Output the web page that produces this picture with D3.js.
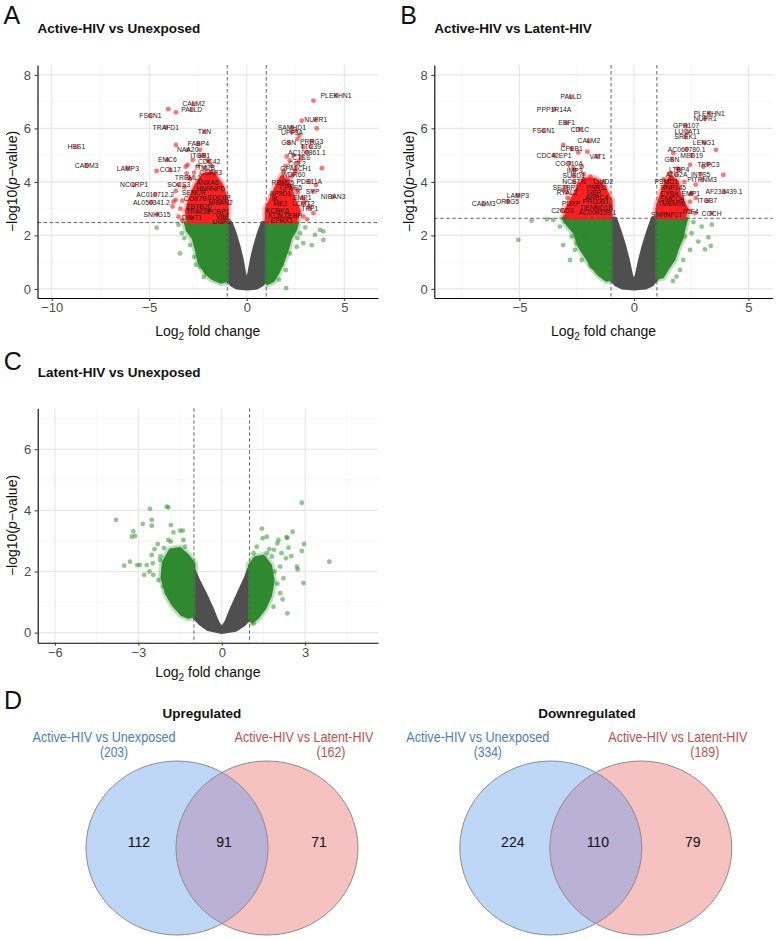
<!DOCTYPE html>
<html lang="en">
<head>
<meta charset="utf-8">
<title>Volcano plots and Venn diagrams</title>
<script src="https://cdnjs.cloudflare.com/ajax/libs/d3/7.8.5/d3.min.js"></script>
<style>
  body { margin: 0; background: #fff; }
  text { font-family: "Liberation Sans", Arial, sans-serif; }
  .tick text { fill: #4d4d4d; font-size: 13px; font-family: "Liberation Sans", Arial, sans-serif; }
  .tick line { stroke: #333; }
  .domain { stroke: #000; stroke-width: 1.1; }
</style>
</head>
<body>
<script>
// ---------- data ----------
var foldCut = 1;
var aThreshold = 2.48, bThreshold = 2.64;

// dense clouds (outline of the overplotted point masses)
var aGrey = [[0,0],[-0.5,0.03],[-0.8,0.15],[-1,0.35],[-1,2.48],[-0.8,2.48],[-0.6,2.1],[-0.4,1.6],[-0.25,1.15],[-0.1,0.55],[0,0.25],[0.1,0.55],[0.25,1.15],[0.4,1.6],[0.6,2.1],[0.8,2.48],[1,2.48],[1,0.35],[0.8,0.15],[0.5,0.03]];
var aGreenL = [[-1,2.48],[-3.15,2.48],[-3.05,2.2],[-2.75,1.9],[-2.6,1.5],[-2.45,1.0],[-2.1,0.6],[-1.8,0.4],[-1.35,0.25],[-1,0.3]];
var aGreenR = [[1,2.48],[2.6,2.48],[2.5,2.2],[2.25,1.9],[2.1,1.5],[1.85,1.0],[1.6,0.6],[1.35,0.3],[1.05,0.2],[1,0.3]];
var aRedL = [[-1,2.48],[-1,3.3],[-1.3,3.9],[-1.7,4.3],[-2.2,4.3],[-2.6,3.9],[-2.9,3.4],[-3.1,2.9],[-3.0,2.48]];
var aRedR = [[1,2.48],[2.5,2.48],[2.7,2.9],[2.4,3.4],[2.2,3.9],[1.8,4.2],[1.5,3.8],[1.2,3.3],[1,3.0]];

var bGrey = [[0,0],[-0.5,0.03],[-0.8,0.15],[-1,0.35],[-1,2.64],[-0.8,2.64],[-0.6,2.15],[-0.4,1.6],[-0.25,1.1],[-0.1,0.5],[0,0.25],[0.1,0.5],[0.25,1.1],[0.4,1.6],[0.6,2.15],[0.8,2.64],[1,2.64],[1,0.35],[0.8,0.15],[0.5,0.03]];
var bGreenL = [[-1,2.64],[-3.1,2.64],[-2.9,2.4],[-2.6,2.1],[-2.4,1.6],[-2.1,1.2],[-1.8,0.8],[-1.55,0.55],[-1.2,0.32],[-1,0.35]];
var bGreenR = [[1,2.64],[2.3,2.64],[2.2,2.3],[2.1,1.9],[1.9,1.5],[1.75,1.1],[1.5,0.8],[1.25,0.45],[1,0.4]];
var bRedL = [[-1,2.64],[-1,3.3],[-1.3,3.8],[-1.7,4.1],[-2.2,4.1],[-2.5,3.7],[-2.8,3.2],[-3.0,2.9],[-2.9,2.64]];
var bRedR = [[1,2.64],[2.2,2.64],[2.3,3.0],[2.0,3.5],[1.9,4.0],[1.6,4.2],[1.3,3.8],[1.1,3.3],[1,3.0]];

var cGrey = [[0,0],[-0.5,0.1],[-0.8,0.3],[-1,0.5],[-1,2.05],[-0.85,1.75],[-0.6,1.3],[-0.35,0.8],[-0.15,0.35],[0,0.15],[0.15,0.35],[0.35,0.8],[0.6,1.3],[0.85,1.8],[1,2.15],[1,0.45],[0.8,0.25],[0.5,0.08]];
var cGreenL = [[-1,0.55],[-1,2.25],[-1.2,2.5],[-1.5,2.75],[-1.85,2.7],[-2.1,2.3],[-2.15,1.8],[-2.0,1.3],[-1.75,0.9],[-1.45,0.6],[-1.2,0.5]];
var cGreenR = [[1,0.45],[1,2.2],[1.2,2.45],[1.5,2.5],[1.75,2.2],[1.85,1.7],[1.75,1.2],[1.55,0.8],[1.3,0.5],[1.1,0.35]];

// scattered points
var aGreenPts = [[-4.62,2.29],[-3.42,1.33],[-2.91,1.64],[-3.0,2.2],[-3.33,2.08],[-2.39,0.83],[-2.05,0.59],[-3.5,2.4],[-2.7,1.2],[-2.2,0.45],[-3.2,1.9],[-2.6,0.9],
  [3.76,2.21],[3.92,2.15],[3.93,1.83],[3.33,1.64],[2.73,2.08],[2.02,0.03],[2.56,1.58],[2.22,1.33],[1.54,1.15],[1.45,0.56],[1.79,0.9],[2.9,1.71],[2.39,2.21],[3.5,2.02],[3.0,2.3],[2.6,1.9],[2.0,0.7],[1.65,0.35]];
var aRedPts = [[3.42,7.04],[-4.02,6.72],[-3.63,6.6],[-3.63,5.38],[-3.03,4.64],[-4.62,4.41],[-3.64,3.66],[-3.76,3.26],[-3.8,3.08],[-3.33,2.58],[-3.13,4.57],[-3.08,4.32],[-2.77,4.82],[-3.64,3.33],
  [2.51,5.91],[2.82,6.29],[3.59,6.0],[2.7,5.73],[3.85,4.51],[3.55,3.88],[2.05,4.95],[3.42,2.83],[2.62,3.61],
  [2.0,4.6],[2.2,4.8],[2.4,5.0],[2.5,4.4],[2.3,4.2],[2.7,4.8],[2.9,5.3],[2.6,5.6],[1.9,4.4],[2.1,4.1],[2.6,3.7],[3.0,3.3],[3.2,3.1],[2.9,2.7],[3.1,2.6],
  [-2.0,4.8],[-2.2,5.0],[-1.8,4.6],[-2.5,4.6],[-2.7,4.35],[-3.3,3.3],[-3.4,3.0],[-3.5,2.7],[-2.4,5.2],[-1.6,4.3],[-2.9,4.1],[-3.2,3.8]];
var bGreenPts = [[-4.47,2.55],[-5.05,1.83],[-3.52,2.58],[-3.01,2.52],[-2.72,1.96],[-2.5,1.71],[-2.79,1.08],[-2.58,1.46],[-2.21,1.96],[-3.23,2.33],[-2.28,1.08],[-1.92,0.9],[-3.09,1.64],[-3.8,2.6],[-1.85,0.83],
  [2.52,2.08],[3.25,1.93],[2.81,1.77],[3.1,1.48],[2.45,1.46],[2.15,1.08],[2.01,0.71],[1.86,0.46],[2.96,2.33],[3.36,1.61],[2.23,1.96],[2.6,2.5],[3.4,2.4],[1.7,0.3]];
var bRedPts = [[-3.09,5.38],[-2.43,5.10],[-2.04,5.13],[-2.28,4.57],[-2.65,4.51],[-3.01,2.70],[-3.09,3.70],[-2.2,4.3],[-1.9,4.2],[-2.9,3.4],[-1.5,3.9],[-2.4,3.9],
  [3.58,5.20],[3.90,4.26],[3.03,4.57],[2.45,4.64],[2.45,3.26],[2.52,3.58],[2.30,2.95],[1.72,5.07],[1.57,4.32],[2.66,2.83],[2.2,4.0],[1.9,4.5],[2.7,3.9],[2.1,3.3],[1.3,4.1],[2.7,3.4]];
var cGreenPts = [[-3.80,3.69],[-3.18,3.31],[-3.24,3.14],[-3.12,3.16],[-2.58,4.05],[-2.52,3.69],[-2.84,3.56],[-2.52,3.50],[-1.98,4.12],[-1.92,4.10],[-3.51,2.19],[-3.30,2.32],[-3.04,2.21],[-2.95,2.21],[-2.70,2.21],[-2.48,2.27],[-2.79,1.89],[-2.46,1.89],[-2.52,2.54],[-2.08,2.76],[-2.42,2.73],[-1.83,2.98],[-1.50,3.34],[-1.74,3.28],[-1.40,3.34],[-1.83,3.52],[-1.38,3.03],[-1.92,3.03],[-1.32,2.81],[-2.10,1.51],[-1.83,1.29],[-1.74,1.04],[-1.44,0.63],[-2.22,2.38],[-2.28,1.72],[-1.98,2.16],[-2.6,2.0],[-2.3,2.9],[-2.2,2.5],
  [2.88,4.25],[3.87,2.32],[2.96,2.90],[2.88,2.67],[2.94,1.62],[2.55,3.30],[2.36,3.10],[2.33,3.12],[1.44,3.40],[1.47,3.09],[1.62,3.14],[2.04,3.03],[2.0,2.92],[2.40,2.78],[2.70,2.16],[2.73,2.07],[2.36,0.63],[2.31,2.43],[2.22,1.78],[2.10,2.16],[1.88,2.71],[1.80,2.49],[2.19,1.09],[2.10,1.29],[1.86,0.85],[1.26,2.81],[1.14,2.60],[1.62,2.60],[1.71,2.73],[1.14,0.31],[2.0,1.6],[1.9,2.0],[2.5,2.5],[2.15,2.6]];

// labelled genes [name, log2FC, -log10 p]
var aLabels = [["PLEKHN1",4.58,7.23],["CALM2",-2.72,6.92],["PALLD",-2.82,6.72],["FSCN1",-4.94,6.47],["TRAFD1",-4.15,6.04],["TXN",-2.17,5.87],["SAMHD1",2.31,6.04],["UPF3A",2.32,5.86],["NUPR1",3.54,6.31],["HES1",-8.74,5.31],["CADM3",-8.21,4.62],["LAMP3",-6.10,4.51],["FABP4",-2.48,5.42],["NAA20",-3.03,5.20],["EMC6",-4.07,4.82],["CCL17",-3.92,4.45],["ITGB1",-2.39,4.97],["CDC42",-1.93,4.76],["ITM2B",-2.14,4.53],["CSRP3",-1.85,4.35],["TREML1",-3.0,4.16],["ANXA6",-2.02,3.97],["HNRNPD",-1.85,3.76],["SOCS3",-3.49,3.89],["NCCRP1",-5.78,3.88],["AC010712.2",-4.70,3.53],["AL050341.2",-4.89,3.24],["SNHG15",-4.60,2.79],["SENCR",-2.72,3.60],["COX7B",-2.64,3.36],["SDCBP",-1.42,3.43],["NIBAN2",-1.35,3.24],["ZBTB20",-2.46,3.08],["TRIM35",-2.5,2.89],["PCBP1",-1.47,2.89],["DIMT1",-2.81,2.68],["VIM",-1.28,2.70],["UGP2",-1.28,2.52],
  ["GSN",2.15,5.47],["PRRG3",3.33,5.52],["TTC39",3.28,5.32],["AC100861.1",3.08,5.11],["CTSS",2.80,4.91],["CCL2",2.58,4.70],["GPATCH1",2.51,4.49],["WDR60",2.39,4.29],["PDE11A",3.21,4.01],["RBM25",1.85,3.96],["CPNE5",2.26,3.79],["SYP",3.38,3.65],["NIBAN3",4.43,3.45],["AP3D1",1.72,3.58],["EMP1",2.85,3.40],["LCMT2",2.90,3.20],["TPP1",3.23,2.99],["IK",1.45,3.36],["ME2",1.72,3.18],["KCNK6",1.57,2.93],["EBP",2.48,2.73],["KCNJ2",1.66,2.73],["EPHX1",1.79,2.55]];
var bLabels = [["PALLD",-2.75,7.19],["PPP1R14A",-3.49,6.72],["EBF1",-2.94,6.21],["FSCN1",-3.94,5.91],["CD1C",-2.36,5.97],["CALM2",-1.97,5.53],["CPEB1",-2.72,5.23],["CDC42EP1",-3.49,5.0],["VAT1",-1.59,4.95],["COQ10A",-2.83,4.70],["IMP3",-2.59,4.44],["SUSD1",-2.63,4.24],["NCSTN",-2.62,4.0],["LIMD2",-1.34,4.01],["SETBP1",-2.98,3.80],["PRR11",-1.62,3.80],["RYAL2",-2.93,3.61],["GSR",-1.75,3.61],["ARPC4",-1.63,3.43],["LAMP3",-5.07,3.50],["OR8G5",-5.52,3.28],["CADM3",-6.56,3.17],["PDXP",-2.75,3.18],["PHLDB1",-1.67,3.26],["C2CD3",-3.13,2.93],["DENND1B",-1.63,3.05],["AC009159.1",-1.60,2.87],
  ["PLEKHN1",3.29,6.57],["NUPR1",3.11,6.36],["GPR107",2.27,6.09],["LUCAT1",2.33,5.87],["SREK1",2.26,5.68],["LENG1",3.06,5.47],["AC060780.1",2.30,5.22],["MED19",2.52,5.0],["GSN",1.66,4.85],["TRPC3",3.25,4.66],["LTBP4",1.97,4.47],["ATG2A",1.86,4.29],["INTS5",2.91,4.29],["PITPNM3",2.97,4.07],["PSMD1",1.41,4.01],["RNF145",1.72,3.79],["CYBA",1.54,3.58],["EMP1",2.48,3.55],["AF233439.1",3.93,3.63],["ITGB7",3.20,3.30],["SMCO4",1.67,3.36],["TMEM98",1.64,3.18],["TCF4",2.45,2.89],["COCH",3.39,2.83],["SNRNP27",1.43,2.77]];

// venn
var setNames = ["Active-HIV vs Unexposed", "Active-HIV vs Latent-HIV"];
var vennTitles = ["Upregulated", "Downregulated"];
var leftOnly = [112, 224], both = [91, 110], rightOnly = [71, 79];
var leftTotal = [203, 334], rightTotal = [162, 189];

// ---------- drawing ----------
var svg = d3.select("body").append("svg").attr("width", 781).attr("height", 940);

var panels = [
  {letter: "A", title: "Active-HIV vs Unexposed", left: 37.5, right: 378, top: 65, bottom: 298, xDom: [-10.73, 6.73], yDom: [-0.34, 8.37],
   xMajor: [-10, -5, 0, 5], xMinor: [-7.5, -2.5, 2.5], yMajor: [0, 2, 4, 6, 8], yMinor: [1, 3, 5, 7], thr: aThreshold,
   grey: aGrey, greens: [aGreenL, aGreenR], reds: [aRedL, aRedR], greenPts: aGreenPts, redPts: aRedPts, labels: aLabels, letterY: 24, titleY: 33, xTitleY: 336},
  {letter: "B", title: "Active-HIV vs Latent-HIV", left: 434.3, right: 772.7, top: 65, bottom: 298, xDom: [-8.72, 6.06], yDom: [-0.34, 8.37],
   xMajor: [-5, 0, 5], xMinor: [-7.5, -2.5, 2.5], yMajor: [0, 2, 4, 6, 8], yMinor: [1, 3, 5, 7], thr: bThreshold,
   grey: bGrey, greens: [bGreenL, bGreenR], reds: [bRedL, bRedR], greenPts: bGreenPts, redPts: bRedPts, labels: bLabels, letterY: 24, titleY: 33, xTitleY: 336},
  {letter: "C", title: "Latent-HIV vs Unexposed", left: 37.7, right: 378, top: 408.3, bottom: 642.7, xDom: [-6.62, 5.62], yDom: [-0.33, 7.34],
   xMajor: [-6, -3, 0, 3], xMinor: [-4.5, -1.5, 1.5, 4.5], yMajor: [0, 2, 4, 6], yMinor: [1, 3, 5, 7], thr: null,
   grey: cGrey, greens: [cGreenL, cGreenR], reds: [], greenPts: cGreenPts, redPts: [], labels: [], letterY: 370, titleY: 377, xTitleY: 677}
];

panels.forEach(function(p) {
  var g = svg.append("g");
  var x = d3.scaleLinear().domain(p.xDom).range([p.left, p.right]);
  var y = d3.scaleLinear().domain(p.yDom).range([p.bottom, p.top]);

  // grid
  function vgrid(vals, col, w) {
    g.append("g").selectAll("line").data(vals).enter().append("line")
      .attr("x1", d => x(d)).attr("x2", d => x(d)).attr("y1", p.top).attr("y2", p.bottom)
      .attr("stroke", col).attr("stroke-width", w);
  }
  function hgrid(vals, col, w) {
    g.append("g").selectAll("line").data(vals).enter().append("line")
      .attr("y1", d => y(d)).attr("y2", d => y(d)).attr("x1", p.left).attr("x2", p.right)
      .attr("stroke", col).attr("stroke-width", w);
  }
  vgrid(p.xMinor, "#f3f3f3", 0.7); hgrid(p.yMinor, "#f3f3f3", 0.7);
  vgrid(p.xMajor, "#e6e6e6", 1.1); hgrid(p.yMajor, "#e6e6e6", 1.1);

  var area = d3.line().x(d => x(d[0])).y(d => y(d[1])).curve(d3.curveLinearClosed);

  // soft halo standing in for the translucent points at the cloud edges
  function halo(pts, col) {
    g.append("path").attr("d", area(pts)).attr("fill", "none").attr("stroke", col)
      .attr("stroke-opacity", 0.45).attr("stroke-width", 8).attr("stroke-linejoin", "round");
  }
  function cloud(pts, col) {
    g.append("path").attr("d", area(pts)).attr("fill", col).attr("stroke", col)
      .attr("stroke-width", 3).attr("stroke-linejoin", "round");
  }
  p.greens.forEach(c => halo(c, "#6fb56f"));
  p.reds.forEach(c => halo(c, "#ff7070"));
  cloud(p.grey, "#4f4f4f");
  p.greens.forEach(c => cloud(c, "#2f8a2f"));
  p.reds.forEach(c => cloud(c, "#ff1f1f"));

  g.append("g").selectAll("circle").data(p.greenPts).enter().append("circle")
    .attr("cx", d => x(d[0])).attr("cy", d => y(d[1])).attr("r", 2.4)
    .attr("fill", "#228B22").attr("fill-opacity", 0.5);
  g.append("g").selectAll("circle").data(p.redPts).enter().append("circle")
    .attr("cx", d => x(d[0])).attr("cy", d => y(d[1])).attr("r", 2.4)
    .attr("fill", "#ff0000").attr("fill-opacity", 0.55);
  g.append("g").selectAll("circle").data(p.labels).enter().append("circle")
    .attr("cx", d => x(d[1])).attr("cy", d => y(d[2])).attr("r", 2.4)
    .attr("fill", "#ff0000").attr("fill-opacity", 0.55);

  // dashed cut-offs
  g.append("g").selectAll("line").data([-foldCut, foldCut]).enter().append("line")
    .attr("x1", d => x(d)).attr("x2", d => x(d)).attr("y1", p.top).attr("y2", p.bottom)
    .attr("stroke", "#555").attr("stroke-width", 0.9).attr("stroke-dasharray", "3.5,2.5");
  if (p.thr !== null) {
    g.append("line").attr("x1", p.left).attr("x2", p.right).attr("y1", y(p.thr)).attr("y2", y(p.thr))
      .attr("stroke", "#555").attr("stroke-width", 0.9).attr("stroke-dasharray", "3.5,2.5");
  }

  // gene labels
  g.append("g").selectAll("text").data(p.labels).enter().append("text")
    .attr("x", d => x(d[1])).attr("y", d => y(d[2])).attr("dy", "0.35em")
    .attr("text-anchor", "middle").attr("font-size", 6.8).attr("fill", "#1a1a1a")
    .text(d => d[0]);

  // axes
  var fmt = d3.format("d");
  g.append("g").attr("transform", "translate(0," + p.bottom + ")")
    .call(d3.axisBottom(x).tickValues(p.xMajor).tickFormat(fmt).tickSize(3).tickSizeOuter(0).tickPadding(2));
  g.append("g").attr("transform", "translate(" + p.left + ",0)")
    .call(d3.axisLeft(y).tickValues(p.yMajor).tickFormat(fmt).tickSize(3).tickSizeOuter(0).tickPadding(3.5));

  // axis titles
  var xt = g.append("text").attr("x", (p.left + p.right) / 2).attr("y", p.xTitleY)
    .attr("text-anchor", "middle").attr("font-size", 14).attr("fill", "#111");
  xt.append("tspan").text("Log");
  xt.append("tspan").attr("font-size", 10).attr("dy", 4).text("2");
  xt.append("tspan").attr("dy", -4).text(" fold change");

  var yt = g.append("text").attr("transform", "translate(" + (p.left - 20.5) + "," + ((p.top + p.bottom) / 2) + ") rotate(-90)")
    .attr("text-anchor", "middle").attr("font-size", 14).attr("fill", "#111");
  yt.append("tspan").text("\u2212log10(");
  yt.append("tspan").attr("font-style", "italic").text("p");
  yt.append("tspan").text("\u2212value)");

  // letter and title
  svg.append("text").attr("x", p.left - 34).attr("y", p.letterY).attr("font-size", 25).attr("fill", "#111").text(p.letter);
  svg.append("text").attr("x", p.left).attr("y", p.titleY).attr("font-size", 13.5).attr("font-weight", "bold").attr("fill", "#111").text(p.title);
});

// ---------- panel D: Venn diagrams ----------
svg.append("text").attr("x", 4).attr("y", 709).attr("font-size", 25).attr("fill", "#111").text("D");

var vennX = [177, 550.8];           // centre of the left circle in each diagram
var titleX = [202, 587];
var gap = 90, cy = 848, rx = 91, ry = 87;
var defs = svg.append("defs");

vennTitles.forEach(function(t, i) {
  var g = svg.append("g");
  var cl = vennX[i], cr = vennX[i] + gap;
  var mid = (cl + cr) / 2;
  defs.append("clipPath").attr("id", "clipR" + i)
    .append("ellipse").attr("cx", cr).attr("cy", cy).attr("rx", rx).attr("ry", ry);

  g.append("ellipse").attr("cx", cl).attr("cy", cy).attr("rx", rx).attr("ry", ry).attr("fill", "#bed7f6");
  g.append("ellipse").attr("cx", cr).attr("cy", cy).attr("rx", rx).attr("ry", ry).attr("fill", "#f6c1c1");
  g.append("ellipse").attr("cx", cl).attr("cy", cy).attr("rx", rx).attr("ry", ry).attr("fill", "#b9b2d5")
    .attr("clip-path", "url(#clipR" + i + ")");
  [cl, cr].forEach(function(c) {
    g.append("ellipse").attr("cx", c).attr("cy", cy).attr("rx", rx).attr("ry", ry)
      .attr("fill", "none").attr("stroke", "#8c8c8c").attr("stroke-width", 1);
  });

  g.append("text").attr("x", titleX[i]).attr("y", 718).attr("text-anchor", "middle")
    .attr("font-size", 13.5).attr("font-weight", "bold").attr("fill", "#111").text(t);

  // set labels
  var lab = [
    {txt: setNames[0], x: cl - 73, y: 742, col: "#4a7cc2", len: 143},
    {txt: "(" + leftTotal[i] + ")", x: cl - 63, y: 757, col: "#4a7cc2", len: 28},
    {txt: setNames[1], x: cr + 37, y: 742, col: "#c0504d", len: 139},
    {txt: "(" + rightTotal[i] + ")", x: cr + 64, y: 757, col: "#c0504d", len: 29}
  ];
  g.selectAll(".lab").data(lab).enter().append("text")
    .attr("x", d => d.x).attr("y", d => d.y).attr("text-anchor", "middle")
    .attr("font-size", 14).attr("fill", d => d.col)
    .attr("textLength", d => d.len).attr("lengthAdjust", "spacingAndGlyphs")
    .text(d => d.txt);

  var counts = [[leftOnly[i], cl - 38], [both[i], mid + 2], [rightOnly[i], cr + 52]];
  g.selectAll(".cnt").data(counts).enter().append("text")
    .attr("x", d => d[1]).attr("y", 847).attr("text-anchor", "middle")
    .attr("font-size", 14).attr("fill", "#111").text(d => d[0]);
});
</script>
</body>
</html>
